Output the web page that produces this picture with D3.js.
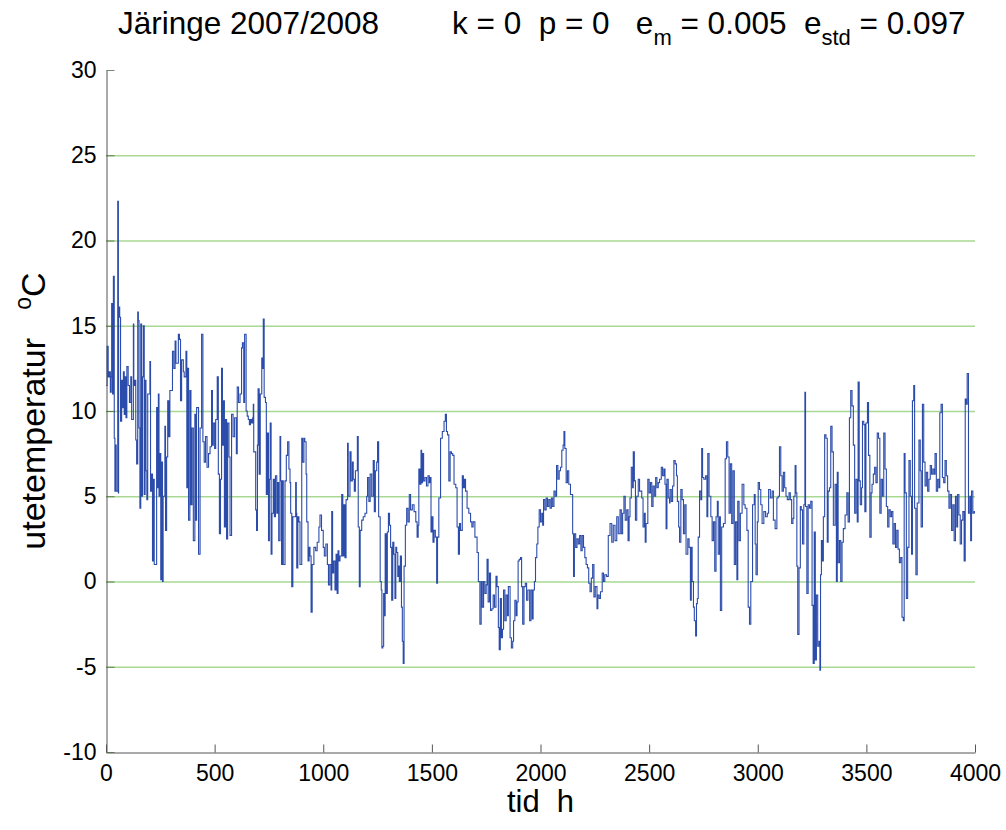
<!DOCTYPE html>
<html>
<head>
<meta charset="utf-8">
<script src="https://cdn.jsdelivr.net/npm/d3@7"></script>
<style>
  html, body { margin: 0; padding: 0; background: #fff; }
  text { font-family: "Liberation Sans", Arial, Helvetica, sans-serif; fill: #000; white-space: pre; }
</style>
</head>
<body>
<svg id="chart" width="1006" height="830"></svg>
<script>
// ---- data (breakpoints of the hourly outdoor temperature) ----
const hours = [
0,5,10,15,20,24,26,30,34,38,41,44,47,54,57,58,63,67,72,76,80,84,87,92,96,102,108,114,118,126,128,133,137,141,146,149,152,156,160,164,168,172,176,180,184,188,192,202,205,210,214,218,222,233,236,241,244,248,252,256,260,263,271,274,279,284,289,294,302,306,312,318,322,333,338,343,348,356,360,368,372,376,380,386,391,396,402,409,413,417,426,433,440,446,452,458,465,472,479,486,490,494,500,505,512,517,522,527,532,536,540,545,550,555,560,566,571,578,585,592,600,604,610,617,624,628,634,638,645,650,655,
660,665,670,675,678,680,689,693,697,700,705,710,717,720,724,728,734,738,743,748,752,756,760,764,770,775,780,786,790,795,801,804,808,812,816,824,830,836,842,847,850,855,860,873,876,878,883,888,893,901,905,911,915,921,924,930,935,939,944,949,957,965,972,980,985,992,1000,1005,1012,1019,1024,1030,1036,1039,1043,1048,1054,1059,1064,1068,1072,1077,1085,1090,1095,1100,1105,1112,1115,1123,1128,1134,1138,1143,1148,1157,1161,1166,1170,1177,1184,1192,1200,1204,1210,1216,1223,1230,1235,1240,1246,1250,1255,1262,1267,1270,1274,1278,1282,1285,1290,1295,1300,1305,
1310,1315,1320,1325,1330,1334,1338,1343,1347,1350,1355,1360,1364,1368,1372,1378,1384,1390,1396,1402,1410,1418,1426,1432,1437,1440,1445,1450,1453,1457,1462,1468,1475,1482,1488,1491,1496,1500,1505,1510,1516,1522,1526,1532,1540,1548,1556,1562,1567,1572,1578,1584,1590,1596,1602,1610,1616,1622,1627,1632,1640,1645,1650,1655,1662,1670,1678,1684,
1690,1698,1708,1714,1721,1727,1732,1738,1744,1750,1754,1759,1765,1770,1776,1782,1788,1795,1800,1806,1810,1815,1820,1825,1830,1836,1842,1848,1852,1860,1866,1872,1876,1882,1888,1892,1897,1902,1908,1913,1918,1924,1930,1936,1942,1950,1956,1962,1966,1972,1977,1983,1988,1994,2000,2006,2010,2014,2020,2026,2032,2038,2044,2050,2056,2062,2068,2074,2080,2086,2092,2098,2104,2108,2112,2118,2124,2130,2138,2144,2148,2152,2156,2162,2168,2174,2180,2186,2192,2198,2204,2210,2216,2222,2228,2234,2240,2246,2252,2260,2264,2270,2276,2284,2290,2296,2304,2312,2320,2328,2335,2343,2351,2358,2366,2372,2378,2384,2390,2397,2403,2408,2412,2418,2424,2427,2432,2437,2443,2450,2456,2466,2472,2478,2482,2486,2494,2500,2506,2512,2518,2524,2530,2536,2542,2548,2556,2562,2568,2573,2578,2582,2588,2594,
2596,2602,2608,2614,2620,2626,2630,2636,2640,2646,2652,2658,2664,2670,2678,2684,2690,2694,2698,2704,2708,2714,2718,2722,2726,2732,2738,2742,2746,2752,2760,2766,2770,2776,2784,2790,2796,2802,2808,2814,2818,2824,2828,2834,2842,2850,2856,2862,2868,2874,2880,2886,2892,2898,2904,2908,2914,2920,2928,2936,2942,2950,2956,2962,2968,2976,2984,2988,2992,2998,3002,3008,3014,3020,3028,3036,3044,3050,3058,3066,3072,3080,3088,3094,3100,3106,3112,3118,3124,3130,3136,3144,3150,3156,3162,3166,3172,3176,3180,3184,3190,3196,3200,3206,3212,3217,3220,3226,3232,3238,3244,
3250,3255,3260,3265,3270,3276,3282,3286,3289,3293,3298,3302,3308,3314,3320,3324,3330,3336,3342,3348,3356,3362,3366,3370,3376,3382,3388,3394,3402,3410,3416,3422,3428,3434,3440,3446,3452,3458,3462,3467,3472,3478,3482,3488,3493,3498,3505,3510,3516,3522,3526,3532,3538,3544,3550,3556,3562,3568,3574,3580,3586,3592,3598,3604,3610,3616,3622,3628,3634,3640,3646,3652,3658,3664,3670,3674,3678,3684,3690,3696,3702,3708,3712,3718,3722,3728,3734,3742,3748,3752,3758,3764,3770,3776,3782,3788,3794,3800,3806,3812,3816,3822,3828,3834,3838,3844,3850,3856,3862,3868,3874,3880,3886,3892,3898,3904,3910,3916,3920,3926,3932,3938,3944,3950,3955,3960,3964,3970,3976,3980,3984,3990,3996,4000
];
const temps = [
11.5,13.8,12,12.3,11.1,12,16.3,11,17.9,8.4,5.3,8,5.3,22.3,5.2,16.1,15.5,9.4,11.8,10.2,12.3,9.8,12,9.6,12.6,11.5,10.5,12,9.5,15.1,11.5,11.8,8.3,6.9,15.8,15.3,9,4.3,15.1,5,12,15,5.1,11.8,6.5,4.8,11,12.9,5.3,6.3,1.2,6,1,10.2,5.5,11,5,7.5,0.1,7,0,5,9.1,3,7.3,10.6,8.5,11.2,11.2,13.5,12.5,14.1,12.8,14.5,14.2,10.6,13,12.3,12,13.5,5.5,12.5,3.6,11.2,4.5,9,2.4,9.8,3.6,10.2,1.6,9,14.5,8.2,7,8.5,6.7,7.5,7.9,11.2,8,9.3,7.8,9.5,12,6.3,2.8,6,12.5,8,10.6,3.2,9.5,2.5,9.3,7.3,2.7,9.8,8.5,9.6,7.5,11.4,10.5,11,13.7,14,10.5,14.5,10,9.7,9.5,
9.2,9.5,9.3,9.6,10.4,7.6,4.2,3,8,11.3,6.3,11,13.1,12.5,15.4,10.8,10.5,5.1,8.7,2.4,6,9.3,1.6,4,6,3.8,6.2,4,5.8,2.4,8.5,5.9,1,5.9,1,5.9,7.4,8.2,6.6,5.8,4,-0.3,3.8,5.8,4,0.8,3.8,3.5,1,8.4,7,8.4,8.2,6.3,3.5,1.2,2,1.5,-1.8,1,2,1.8,2.3,3.2,3.9,3,2,1.5,2.2,1,-0.2,1,-0.5,4.1,0.5,1.2,-0.5,1.6,-0.7,1.8,1.2,1.5,5.1,1.5,4.5,1.4,4.8,8.1,5,7.6,5.9,7,6,5.3,6.5,8.5,3.2,-0.3,3,3.6,3.8,4,5,6.1,4.7,6.3,5,7.1,4.1,6.5,7,8.2,3.8,0,-0.5,-3.9,-3.8,-0.7,-2,2.8,-0.7,2.9,4,3.3,
2,-1.1,2.3,1.6,-1,2,1.7,0.3,0.9,0,1.5,-1.5,-3.5,-4.8,0.9,3.3,4.3,3.5,5.1,4.2,4.5,4.1,3.5,2.6,3.3,6.6,5.7,7.7,5.8,7.5,5.9,6.1,5.6,6.2,5.8,6.1,2.9,3.8,2.3,3,2.6,-0.1,2.6,4.9,8.4,8.8,9.4,9.8,8.8,8.6,5.9,7.6,7.5,7.4,5.7,5.5,3.2,1.6,3.4,3,6.2,5.5,6,5.3,4.3,4,3.5,3.2,
3.5,2.6,1.7,0,-2.5,0,-1.5,0,-0.7,-0.2,1.3,-1.2,0.5,-1.7,-1.6,-0.8,-1.5,0.3,-0.3,-2.7,-4,-1,-3.3,-2.8,-0.5,-2.3,-0.8,-2,-0.3,-3.3,-3.9,-3.5,-2.3,-1.1,-2,-1.2,1.2,1.3,1.4,-0.3,-2.5,-0.3,-0.1,-1.1,-0.5,-2.3,-0.5,-2.2,-0.5,0,1.4,2.2,3.2,4.2,3.5,4,3.3,4.8,4.2,4.9,4.4,4.8,4.3,4.9,4.4,5.3,5,6.8,6,6.5,6.7,7.7,8,8.8,7.8,5.8,6.5,5.7,5.1,5.1,2.8,0.3,2.8,2,2.5,2.2,2.7,1.8,2.7,2,1.4,1,0.8,-0.1,-0.6,0.2,1,-0.9,-0.3,-1.6,-0.8,-1,-0.6,0.5,0,0.4,0.3,2.7,3.4,2.3,3.3,2.4,3.8,2.8,4.2,2.8,4,5,3.6,4.2,2.4,3.8,4.9,6.7,5.5,7.6,5.9,3.6,5,6,5.3,4.9,3.2,4,2.3,3.4,6,5.2,5.8,4.4,5.6,5,6.1,5.5,5.8,6,6.7,6.2,6.6,5.7,3.1,6,4.9,4.6,
5.4,4.7,5.6,7.1,6.9,6.2,4.7,3.2,2.3,5.4,4.8,2.8,4.5,1.6,2.5,2,-1.1,2,0,-1.5,-2.3,-3.2,-1.3,-1,2.6,5.3,4.8,7.8,6.1,6,6.2,3.8,7.5,5,3.8,2.4,3.5,0.6,3.8,4.7,1.6,3.8,-1.7,3.2,3.4,7.2,8.2,7.3,4,6.9,3.4,6.5,1,3.5,0.1,4.7,2.4,4,5.7,4.5,4.3,3,-1.5,-2.5,0,4.5,5.1,2.2,0.4,3.5,5.8,5.4,4.5,3.4,4.1,3.8,4,5.4,4.9,5.3,3.6,3.1,4.9,5,7.9,6.2,5.3,6.4,5.5,5,4.8,5.2,4.8,3.4,3.7,5,6.8,5.2,0.9,-3.1,0.8,4.4,4.2,2.2,4.5,11.1,4.4,-0.7,4.5,4.3,4.7,
-1.4,-4.8,2.9,-4.6,-0.8,-3.8,-3.5,-5.2,0.4,2.4,1.2,3.8,8.6,8.4,2.3,5.3,5.5,9.1,7.6,3.3,5.7,0,6.4,1.1,2.4,0,2.3,3.1,3.9,5.2,3.5,9.6,11.2,10.3,8,4,6,3.5,11.7,5.9,4.5,5.5,9.4,9.2,4.1,9.3,10.5,7.4,2.6,5.2,5.7,6.3,6.7,5.8,8.7,8.4,4,6,5,8.7,6.6,4.4,3.2,4.2,3.8,4.1,2.2,3.4,2,3,1.9,1.1,1.4,-2.1,-2.3,7.5,5.2,-1,2,7.1,5,1.6,10.6,11.5,4.3,0.4,4.6,8.3,6.5,3.2,10.4,7,5.6,6.4,5.3,6,6.8,6.3,6.6,6.3,7.5,5.3,6,5.5,9.9,10.4,6.1,5.8,7.1,6.2,5.3,4.3,5.1,3,4.5,2.4,5,3.2,5.1,3.9,2.2,3.6,4.1,1.2,10.7,10.4,12.2,4,5,2.4,5.3,4,4.1,4
];
const xTickValues = [0, 500, 1000, 1500, 2000, 2500, 3000, 3500, 4000];
const yTickValues = [-10, -5, 0, 5, 10, 15, 20, 25, 30];
const gridValues = [-5, 0, 5, 10, 15, 20, 25];
const titleLeft = "Järinge 2007/2008";
const xLabel = "tid  h";
const yLabel = "utetemperatur   ";

// ---- layout ----
const L = 106, R = 975, T = 70, B = 752;
const svg = d3.select("#chart");
const x = d3.scaleLinear().domain([0, 4000]).range([L, R]);
const y = d3.scaleLinear().domain([-10, 30]).range([B, T]);
const fmt = d => String(d);   // plain hyphen-minus like the original

// grid lines
svg.append("g").selectAll("line").data(gridValues).join("line")
  .attr("x1", L).attr("x2", R)
  .attr("y1", d => y(d) + 0.5).attr("y2", d => y(d) + 0.5)
  .attr("stroke", "#a9d893").attr("stroke-width", 1.6);

// data line
const pts = hours.map((h, i) => [h, temps[i]]);
svg.append("defs").append("clipPath").attr("id", "clip")
  .append("rect").attr("x", L).attr("y", T).attr("width", R - L).attr("height", B - T);
svg.append("path")
  .datum(pts)
  .attr("clip-path", "url(#clip)")
  .attr("fill", "none")
  .attr("stroke", "#2c4cab")
  .attr("stroke-width", 1.1)
  .attr("d", d3.line().x(d => x(d[0])).y(d => y(d[1])).curve(d3.curveStepAfter));

// axes
const fontSize = 23;
const xAxis = d3.axisBottom(x).tickValues(xTickValues).tickFormat(fmt).tickSizeInner(-8).tickSizeOuter(0).tickPadding(12);
const gx = svg.append("g").attr("transform", `translate(0,${B + 0.5})`).call(xAxis);
gx.select(".domain").attr("stroke", "#555");
gx.selectAll(".tick line").attr("stroke", "#555");
gx.selectAll(".tick text").attr("font-size", fontSize).attr("font-family", "Liberation Sans, Arial, sans-serif").attr("fill", "#000");

const yAxis = d3.axisLeft(y).tickValues(yTickValues).tickFormat(fmt).tickSizeInner(-8).tickSizeOuter(0).tickPadding(10);
const gy = svg.append("g").attr("transform", `translate(${L + 0.5},0)`).call(yAxis);
gy.select(".domain").attr("stroke", "#555");
gy.selectAll(".tick line").attr("stroke", "#3d5a30").attr("stroke-opacity", 0.7);
gy.selectAll(".tick text").attr("font-size", fontSize).attr("font-family", "Liberation Sans, Arial, sans-serif").attr("fill", "#000");

// title
svg.append("text").attr("x", 118).attr("y", 34).attr("font-size", 31.5).text(titleLeft);
const t2 = svg.append("text").attr("x", 452).attr("y", 34).attr("font-size", 31.5);
t2.append("tspan").text("k = 0  p = 0   e");
t2.append("tspan").attr("dy", 11).attr("font-size", 22).text("m");
t2.append("tspan").attr("dy", -11).text(" = 0.005  e");
t2.append("tspan").attr("dy", 11).attr("font-size", 22).text("std");
t2.append("tspan").attr("dy", -11).text(" = 0.097");

// x label
svg.append("text").attr("x", (L + R) / 2).attr("y", 812).attr("text-anchor", "middle").attr("font-size", 31).text(xLabel);

// y label
const yl = svg.append("text").attr("transform", `translate(45,${(T + B) / 2}) rotate(-90)`).attr("text-anchor", "middle").attr("font-size", 34);
yl.append("tspan").text(yLabel);
yl.append("tspan").attr("dy", -14).attr("font-size", 23).text("o");
yl.append("tspan").attr("dy", 14).text("C");
</script>
</body>
</html>
